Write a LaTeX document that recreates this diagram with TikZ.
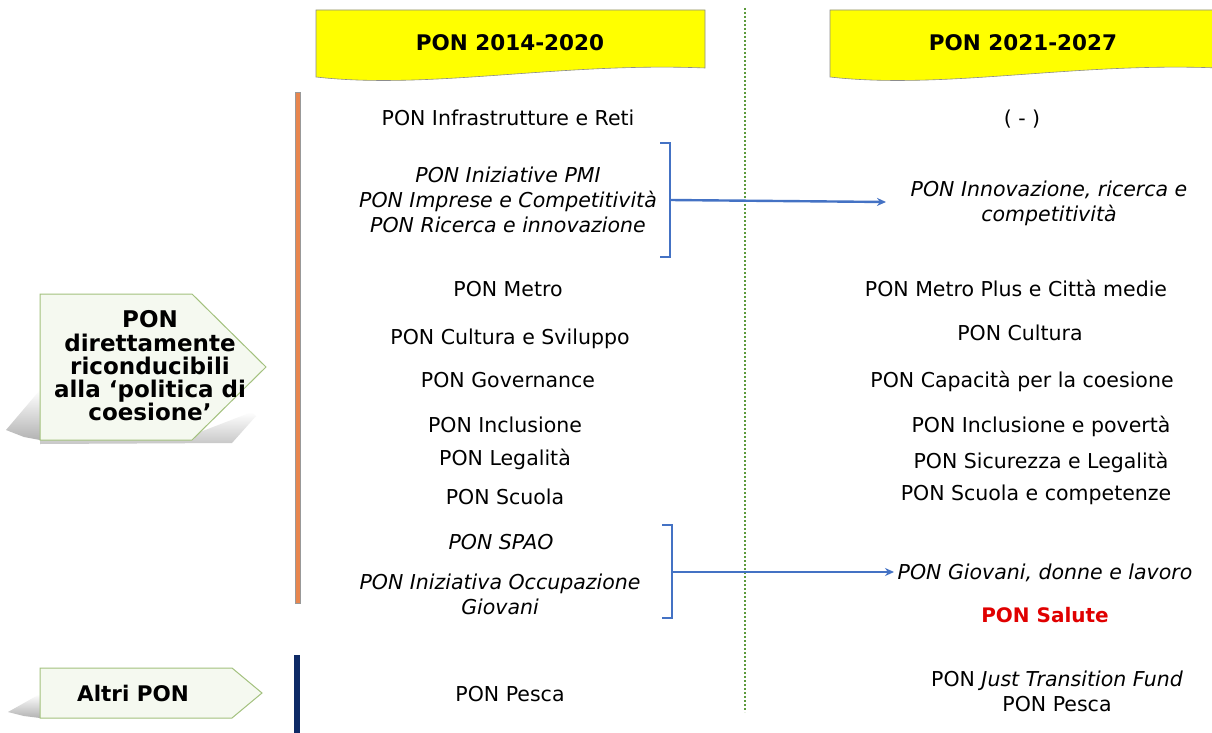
\documentclass[tikz,border=0pt]{standalone}
\usepackage{fontspec}
\setmainfont{DejaVu Sans}
\usetikzlibrary{arrows.meta}
\definecolor{headY}{HTML}{FFFF00}
\definecolor{headB}{HTML}{8C8C8C}
\definecolor{dotG}{HTML}{5C9A3C}
\definecolor{barO}{HTML}{E8864E}
\definecolor{barN}{HTML}{0E2A66}
\definecolor{arrB}{HTML}{4472C4}
\definecolor{pentF}{HTML}{F5F9F0}
\definecolor{pentB}{HTML}{A3C17E}
\definecolor{salute}{HTML}{E00000}
\tikzset{
  txt/.style={font=\fontsize{20.5}{25}\selectfont, align=center, inner sep=0pt, anchor=base},
  itx/.style={txt, font=\fontsize{20.5}{25}\selectfont\itshape},
  btx/.style={txt, font=\fontsize{21.5}{23.5}\selectfont\bfseries},
  mid/.style={anchor=center},
  headbox/.style={fill=headY, draw=headB, line width=0.6pt},
  pent/.style={fill=pentF, draw=pentB, line width=1pt},
  brk/.style={draw=arrB, line width=2.8pt},
  arr/.style={draw=arrB, line width=2.4pt, -{Stealth[length=9pt,width=8pt]}},
}
\begin{document}
\begin{tikzpicture}[x=1pt,y=-1pt]
\useasboundingbox (0,0) rectangle (1212,733);
\fill[white] (0,0) rectangle (1212,733);

% header boxes
\path[headbox] (316,10) -- (705,10) -- (705,68) .. controls (560,62) and (430,90) .. (316,77) -- cycle;
\path[headbox] (830,10) -- (1218,10) -- (1218,68) .. controls (1074,62) and (944,90) .. (830,77) -- cycle;
\node[btx] (h1) at (510,51) {PON 2014-2020};
\node[btx] (h2) at (1023,51) {PON 2021-2027};

% green dotted separator
\coordinate (sepT) at (745,8);
\coordinate (sepB) at (745,712);
\draw[dotG, line width=2.6pt, dash pattern=on 2.4pt off 1.6pt] (sepT) -- (sepB);

% vertical bars
\fill[barO, draw=black!40, line width=0.4pt] (295.5,92) rectangle (300.5,603);
\fill[barN] (294,655) rectangle (300,733);

% left shapes with soft shadows
\shade[top color=white, bottom color=black!30] (6,430) -- (40,390) -- (40,440) -- (24,437) -- cycle;
\shade[top color=white, bottom color=black!22] (40,432) -- (200,432) -- (252,412) -- (256,416) -- (232,443) -- (40,444) -- cycle;
\path[pent] (40,294) -- (192,294) -- (266,367) -- (192,440) -- (40,440) -- cycle;
\node[btx, mid, font=\fontsize{23}{23.3}\selectfont\bfseries] (p1) at (150,366) {PON\\direttamente\\riconducibili\\alla ‘politica di\\coesione’};

\shade[top color=white, bottom color=black!30] (8,712) -- (40,694) -- (40,718) -- (24,716) -- cycle;
\path[pent] (40,668) -- (232,668) -- (262,693) -- (232,718) -- (40,718) -- cycle;
\node[btx] (p2) at (133,701) {Altri PON};

% left column
\node[txt] (l1) at (508,125) {PON Infrastrutture e Reti};
\node[itx, mid] (l2) at (508,200) {PON Iniziative PMI\\PON Imprese e Competitività\\PON Ricerca e innovazione};
\node[txt] (l3) at (508,296) {PON Metro};
\node[txt] (l4) at (510,344) {PON Cultura e Sviluppo};
\node[txt] (l5) at (508,387) {PON Governance};
\node[txt] (l6) at (505,432) {PON Inclusione};
\node[txt] (l7) at (505,465) {PON Legalità};
\node[txt] (l8) at (505,504) {PON Scuola};
\node[itx] (l9) at (501,549) {PON SPAO};
\node[itx, mid] (l10) at (500,594) {PON Iniziativa Occupazione\\Giovani};
\node[txt] (l11) at (510,701) {PON Pesca};

% right column
\node[txt] (r1) at (1022,125) {( - )};
\node[itx, mid] (r2) at (1049,203) {PON Innovazione, ricerca e\\competitività};
\node[txt] (r3) at (1016,296) {PON Metro Plus e Città medie};
\node[txt] (r4) at (1020,340) {PON Cultura};
\node[txt] (r5) at (1022,387) {PON Capacità per la coesione};
\node[txt] (r6) at (1041,432) {PON Inclusione e povertà};
\node[txt] (r7) at (1041,468) {PON Sicurezza e Legalità};
\node[txt] (r8) at (1036,500) {PON Scuola e competenze};
\node[itx] (r9) at (1045,579) {PON Giovani, donne e lavoro};
\node[btx, text=salute, font=\fontsize{20}{24}\selectfont\bfseries] (r10) at (1045,622) {PON Salute};
\node[txt, mid] (r11) at (1057,691) {PON \textit{Just Transition Fund}\\PON Pesca};

% brackets and arrows
\draw[brk] (660,143) -- (670,143) -- (670,257) -- (660,257);
\coordinate (b1) at (670,200);
\coordinate (e1) at (886,202);
\draw[arr] (b1) -- (e1);

\draw[brk] (662,525) -- (672,525) -- (672,618) -- (662,618);
\coordinate (b2) at (672,572);
\coordinate (e2) at (894,572);
\draw[arr] (b2) -- (e2);
\end{tikzpicture}
\end{document}
